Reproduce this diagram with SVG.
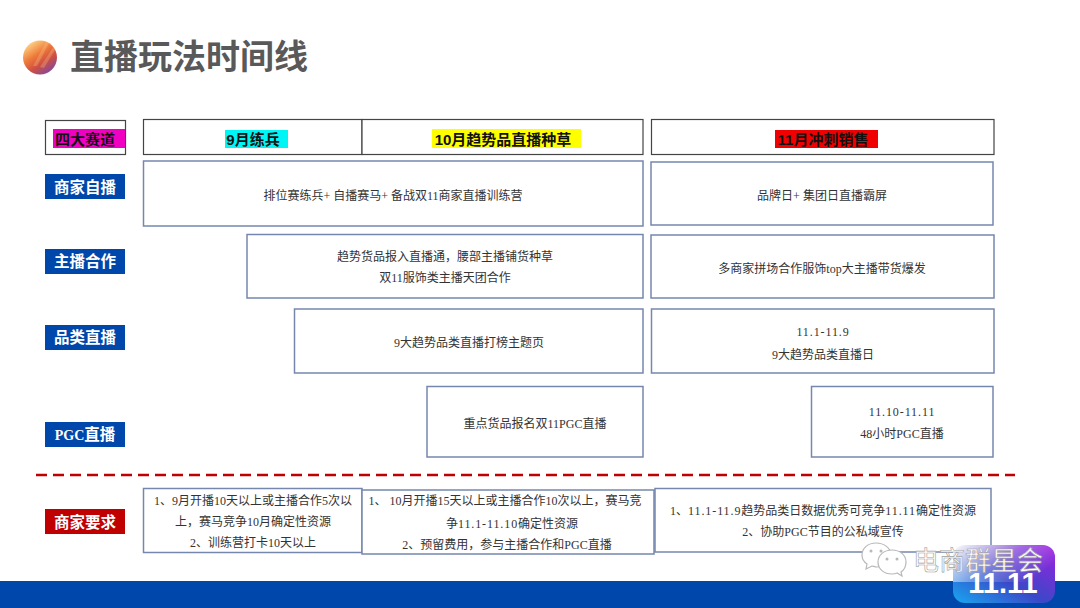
<svg xmlns="http://www.w3.org/2000/svg" width="1080" height="608" viewBox="0 0 1080 608">
<style>
text{font-family:"Liberation Serif","Noto Sans CJK SC",serif;text-anchor:middle}
.t{font-size:12px;fill:#333}
.n{letter-spacing:.9px}
.h{font-family:"Liberation Sans","Noto Sans CJK SC",sans-serif;font-size:15px;font-weight:700;fill:#111}
.l{font-family:"Noto Sans CJK SC",sans-serif;font-size:15.500px;font-weight:700;fill:#fff}
.bx{fill:#fff;stroke:#7687ae;stroke-width:1.500}
.hb{fill:#fff;stroke:#444;stroke-width:1.200}
</style>
<defs>
<linearGradient id="ball" x1="0.1" y1="0.1" x2="0.7" y2="1">
<stop offset="0" stop-color="#ffd98a"/><stop offset="0.4" stop-color="#ee7a3a"/><stop offset="0.68" stop-color="#cf4f42"/><stop offset="1" stop-color="#84499a"/>
</linearGradient>
<linearGradient id="badge" x1="0" y1="1" x2="1" y2="0">
<stop offset="0" stop-color="#18a8f0"/><stop offset="0.45" stop-color="#3a48c8"/><stop offset="1" stop-color="#a01ee0"/>
</linearGradient>
<linearGradient id="fade" x1="0" y1="0" x2="1" y2="0.500">
<stop offset="0" stop-color="#fff"/><stop offset="0.55" stop-color="#fff" stop-opacity="0.3"/><stop offset="1" stop-color="#fff" stop-opacity="0"/>
</linearGradient>
<clipPath id="ballclip"><circle cx="40" cy="57.500" r="17"/></clipPath>
</defs>
<rect width="1080" height="608" fill="#fff"/>
<g id="title">
<circle cx="40" cy="57.500" r="17" fill="url(#ball)"/>
<g clip-path="url(#ballclip)" fill="#ffd9a0" opacity="0.25">
<path d="M33 66 L46 42 L49 43 L37 66Z"/><path d="M40 67 L54 46 L56 48 L44 68Z"/>
</g>
<text x="189" y="69" style="font-family:'Noto Sans CJK SC',sans-serif;font-size:34px;font-weight:700;fill:#595959">直播玩法时间线</text>
</g>
<g id="header-track">
<rect class="hb" x="45.500" y="120.500" width="80" height="34"/>
<rect x="53" y="129" width="72" height="19" fill="#f000c0"/>
<text class="h" x="85" y="145">四大赛道</text>
</g>
<g id="header-sep">
<rect class="hb" x="143.500" y="119.500" width="218.500" height="35"/>
<rect x="225" y="130" width="63" height="18" fill="#00f5f5"/>
<text class="h" x="253" y="145">9月练兵</text>
</g>
<g id="header-oct">
<rect class="hb" x="362" y="119.500" width="281" height="35"/>
<rect x="432" y="129" width="149" height="19" fill="#ffff00"/>
<text class="h" x="503" y="145">10月趋势品直播种草</text>
</g>
<g id="header-nov">
<rect class="hb" x="651.500" y="119.500" width="342.500" height="35"/>
<rect x="775" y="130" width="103" height="18" fill="#f00000"/>
<text class="h" x="823" y="145">11月冲刺销售</text>
</g>
<g id="label-self"><rect x="45" y="174" width="80" height="25" fill="#0047ab"/><text class="l" x="85" y="192.500">商家自播</text></g>
<g id="label-anchor"><rect x="45" y="249" width="80" height="25" fill="#0047ab"/><text class="l" x="85" y="267">主播合作</text></g>
<g id="label-cat"><rect x="45" y="325" width="80" height="25" fill="#0047ab"/><text class="l" x="85" y="343">品类直播</text></g>
<g id="label-pgc"><rect x="45" y="422" width="80" height="25" fill="#0047ab"/><text class="l" x="85" y="440"><tspan style="font-family:'Liberation Serif',serif;font-size:14px;font-weight:700">PGC</tspan>直播</text></g>
<g id="label-req"><rect x="45" y="509" width="80" height="25" fill="#c00000"/><text class="l" x="85" y="527.500">商家要求</text></g>
<g id="self-a"><rect class="bx" x="143.500" y="161" width="499.500" height="65"/><text class="t" x="393" y="200">排位赛练兵+ 自播赛马+ 备战双11商家直播训练营</text></g>
<g id="self-b"><rect class="bx" x="651" y="162" width="342" height="63"/><text class="t" x="822" y="200">品牌日+ 集团日直播霸屏</text></g>
<g id="anchor-a"><rect class="bx" x="247" y="234.500" width="396" height="63.500"/><text class="t" x="445" y="261">趋势货品报入直播通，腰部主播铺货种草</text><text class="t" x="445" y="282">双11服饰类主播天团合作</text></g>
<g id="anchor-b"><rect class="bx" x="651" y="235" width="343" height="63"/><text class="t" x="822" y="273">多商家拼场合作服饰top大主播带货爆发</text></g>
<g id="cat-a"><rect class="bx" x="294.500" y="309" width="348.500" height="64"/><text class="t" x="469" y="347">9大趋势品类直播打榜主题页</text></g>
<g id="cat-b"><rect class="bx" x="651.500" y="309" width="342.500" height="64"/><text class="t n" x="823" y="336">11.1-11.9</text><text class="t" x="823" y="358.500">9大趋势品类直播日</text></g>
<g id="pgc-a"><rect class="bx" x="427" y="386.500" width="216" height="70.500"/><text class="t" x="535" y="428">重点货品报名双11PGC直播</text></g>
<g id="pgc-b"><rect class="bx" x="811.500" y="386.500" width="181.500" height="70.500"/><text class="t n" x="902" y="416">11.10-11.11</text><text class="t" x="902" y="438">48小时PGC直播</text></g>
<g id="connectors"><line x1="36" y1="475" x2="1015" y2="475" stroke="#c00000" stroke-width="2.500" stroke-dasharray="11 6"/></g>
<g id="req-a"><rect class="bx" x="143.500" y="488.500" width="218.500" height="64"/>
<text class="t" x="253" y="505">1、9月开播10天以上或主播合作5次以</text><text class="t" x="253" y="526">上，赛马竞争10月确定性资源</text><text class="t" x="253" y="547">2、训练营打卡10天以上</text></g>
<g id="req-b"><rect class="bx" x="362" y="490" width="292" height="64"/>
<text class="t" x="505" y="505">1、 10月开播15天以上或主播合作10次以上，赛马竞</text><text class="t" x="512" y="528">争<tspan class="n">11.1-11.10</tspan>确定性资源</text><text class="t" x="507" y="549">2、预留费用，参与主播合作和PGC直播</text></g>
<g id="req-c"><rect class="bx" x="655" y="488.500" width="336" height="63.500"/>
<text class="t" x="823" y="515">1、<tspan class="n">11.1-11.9</tspan>趋势品类日数据优秀可竞争<tspan class="n">11.11</tspan>确定性资源</text><text class="t" x="823" y="536">2、协助PGC节目的公私域宣传</text></g>
<rect id="bar" x="0" y="581" width="1080" height="27" fill="#0047ab"/>
<g id="badge">
<rect x="953" y="545" width="102" height="58" rx="12" fill="url(#badge)"/>
<rect x="953" y="545" width="102" height="37" fill="url(#fade)"/>
<text x="1003" y="593" style="font-family:'Liberation Sans',sans-serif;font-size:29px;font-weight:700;fill:#fff">11.11</text>
</g>
<g id="watermark" fill="#fff" stroke="#b8b8b8" stroke-width="1.200">
<path d="M876 543c-8 0-14 5-14 12 0 4 2 7 5 9l-1 5 6-3c1 0 3 1 5 1 7 0 14-5 14-12s-7-12-15-12z"/>
<path d="M892 550c-8 0-14 5-14 12s6 12 14 12c2 0 3 0 5-1l5 3-1-4c3-2 5-6 5-10 0-7-6-12-14-12z"/>
<g fill="#b8b8b8" stroke="none"><circle cx="871" cy="551" r="1.500"/><circle cx="881" cy="551" r="1.500"/><circle cx="887" cy="559" r="1.500"/><circle cx="897" cy="559" r="1.500"/></g>
<text x="978" y="570" style="font-family:'Noto Sans CJK SC',sans-serif;font-size:26px;font-weight:400;fill:#fff;stroke:#a0a0a0;stroke-width:.6">电商群星会</text>
</g>
</svg>
